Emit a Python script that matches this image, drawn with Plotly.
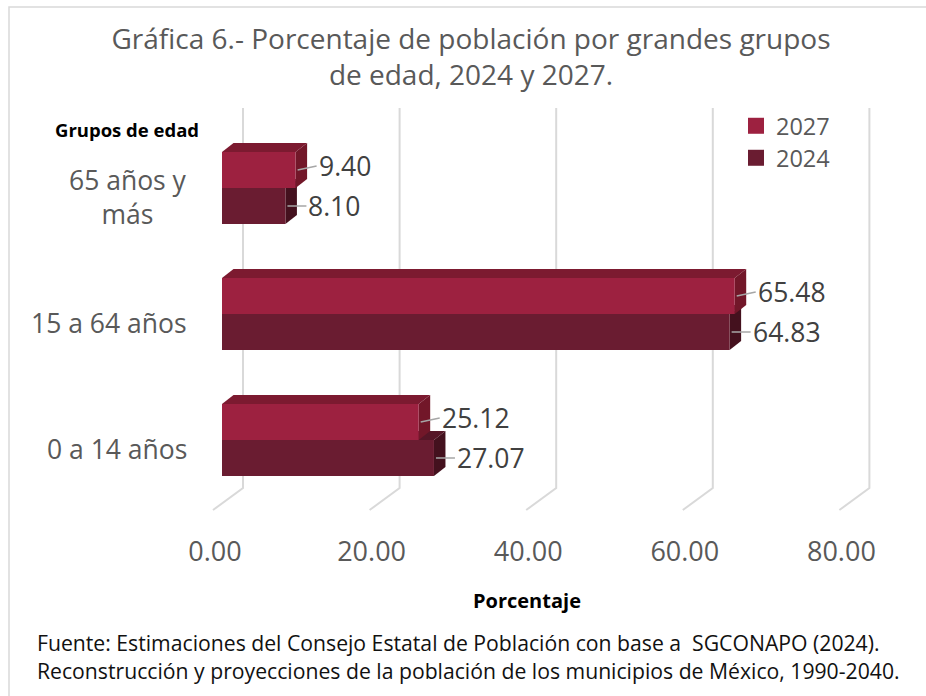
import plotly.graph_objects as go

# ---------------- data ----------------
categories = ["0 a 14 años", "15 a 64 años", "65 años y<br>más"]
series_names = ["2027", "2024"]
values_2027 = [25.12, 65.48, 9.40]
values_2024 = [27.07, 64.83, 8.10]
tick_values = [0, 20, 40, 60, 80]
tick_labels = ["0.00", "20.00", "40.00", "60.00", "80.00"]

title_text = "Gráfica 6.- Porcentaje de población por grandes grupos<br>de edad, 2024 y 2027."
source_text = ("Fuente: Estimaciones del Consejo Estatal de Población con base a  SGCONAPO (2024).<br>"
               "Reconstrucción y proyecciones de la población de los municipios de México, 1990-2040.")

# ---------------- geometry (pixel layout) ----------------
W, H = 926, 696
L, R, T, B = 100, 900, 100, 528
X0_PX = 222      # pixel of value 0 at bar front
SX = 7.83        # pixels per percentage unit
Y0_PX = 440      # pixel of first category centre
SY = 126         # pixels per category step

xmin, xmax = (L - X0_PX) / SX, (R - X0_PX) / SX
ymin, ymax = (Y0_PX - B) / SY, (Y0_PX - T) / SY


def dx(px):
    return px / SX


def dy(px):
    return px / SY


def ydata(py):
    return (Y0_PX - py) / SY


def xpaper(px):
    return (px - L) / (R - L)


def ypaper(py):
    return (B - py) / (B - T)


BAR_T = dy(36)          # bar thickness
DEP_X, DEP_Y = dx(11.5), dy(9)   # bar depth projection

FONT = "Open Sans"
GRAY = "#595959"

col = {
    "2027": dict(front="#9D2140", top="#7C1A30", side="#721729"),
    "2024": dict(front="#6A1C31", top="#561627", side="#44111E"),
}

fig = go.Figure()

# front faces of bars
series = [("2027", values_2027, +0.5), ("2024", values_2024, -0.5)]
for name, vals, off in series:
    fig.add_trace(go.Bar(
        orientation="h",
        x=vals,
        y=[i + off * BAR_T for i in range(len(categories))],
        width=BAR_T,
        base=0,
        marker=dict(color=col[name]["front"], line=dict(width=0)),
        name=name,
        showlegend=False,
        hovertemplate="%{x:.2f}<extra>" + name + "</extra>",
    ))

# legend entries (one legend box per series for exact spacing)
for k, (name, vals, off) in enumerate(series):
    fig.add_trace(go.Scatter(
        x=[None], y=[None], mode="markers", name=name,
        legend="legend" if k == 0 else "legend2",
        marker=dict(symbol="square", size=16, color=col[name]["front"]),
    ))

shapes = []

# back-wall gridlines + floor diagonals
g_top, g_bot, g_floor = ydata(108), ydata(488), ydata(510)
for v in tick_values:
    xb = v + dx(21)
    xf = v - dx(9)
    shapes.append(dict(type="path", xref="x", yref="y", layer="below",
                       path=f"M {xb},{g_top} L {xb},{g_bot} L {xf},{g_floor}",
                       line=dict(color="#D9D9D9", width=2)))

# 3D top and side faces (2024 first, then 2027)
for name, vals, off in [series[1], series[0]]:
    for i, v in enumerate(vals):
        c = i + off * BAR_T
        yt, yb = c + BAR_T / 2, c - BAR_T / 2
        top = (f"M 0,{yt} L {v},{yt} L {v + DEP_X},{yt + DEP_Y} "
               f"L {DEP_X},{yt + DEP_Y} Z")
        side = (f"M {v},{yb} L {v},{yt} L {v + DEP_X},{yt + DEP_Y} "
                f"L {v + DEP_X},{yb + DEP_Y} Z")
        shapes.append(dict(type="path", xref="x", yref="y", layer="between",
                           path=top, fillcolor=col[name]["top"], line=dict(width=0)))
        shapes.append(dict(type="path", xref="x", yref="y", layer="between",
                           path=side, fillcolor=col[name]["side"], line=dict(width=0)))

# chart border (left and top edges visible)
shapes.append(dict(type="rect", xref="paper", yref="paper", layer="below",
                   x0=xpaper(9), x1=xpaper(W + 20), y0=ypaper(H + 20), y1=ypaper(7),
                   line=dict(color="#D9D9D9", width=1.5)))

annotations = []

# value labels with leader lines
for name, vals, off in series:
    for i, v in enumerate(vals):
        c = i + off * BAR_T
        annotations.append(dict(
            x=v + dx(2), y=c, xref="x", yref="y",
            text=f"{v:.2f}", showarrow=True, arrowhead=0, arrowwidth=1.5,
            arrowcolor="#A6A6A6", ax=19, ay=-4 if name == "2027" else 0,
            xanchor="left", yanchor="middle",
            font=dict(family=FONT, size=26.5, color="#404040"),
        ))

# category labels
for i, cat in enumerate(categories):
    annotations.append(dict(
        x=dx(189 - X0_PX), y=i, xref="x", yref="y", yshift=-9,
        text=cat, showarrow=False, xanchor="right", yanchor="middle", align="center",
        font=dict(family=FONT, size=26.5, color=GRAY),
    ))

# axis header
annotations.append(dict(
    x=xpaper(53), y=ypaper(130), xref="paper", yref="paper",
    text="<b>Grupos de edad</b>", showarrow=False, xanchor="left", yanchor="middle",
    font=dict(family=FONT, size=18.5, color="#000000"),
))

# x axis title
annotations.append(dict(
    x=xpaper(527), y=ypaper(600), xref="paper", yref="paper",
    text="<b>Porcentaje</b>", showarrow=False, xanchor="center", yanchor="middle",
    font=dict(family=FONT, size=20, color="#000000"),
))

# source
annotations.append(dict(
    x=xpaper(35), y=ypaper(656), xref="paper", yref="paper",
    text=source_text, showarrow=False, xanchor="left", yanchor="middle", align="left",
    font=dict(family=FONT, size=21.2, color="#111111"),
))

legend_common = dict(xanchor="left", yanchor="middle", xref="paper", yref="paper",
                     bgcolor="rgba(0,0,0,0)", itemsizing="trace",
                     font=dict(family=FONT, size=23.5, color=GRAY))

fig.update_layout(
    width=W, height=H, autosize=False,
    margin=dict(l=L, r=W - R, t=T, b=H - B, pad=0),
    paper_bgcolor="white", plot_bgcolor="white",
    barmode="overlay",
    title=dict(text=title_text, x=471 / W, xanchor="center", xref="container",
               y=1 - 49 / H, yanchor="middle", yref="container",
               font=dict(family=FONT, size=28, color=GRAY)),
    xaxis=dict(range=[xmin, xmax], showgrid=False, zeroline=False, showline=False,
               tickmode="array", tickvals=tick_values, ticktext=tick_labels,
               ticks="", ticklabelshift=-7, ticklabelstandoff=5,
               tickfont=dict(family=FONT, size=27, color=GRAY)),
    yaxis=dict(range=[ymin, ymax], showgrid=False, zeroline=False, showline=False,
               showticklabels=False, ticks=""),
    legend=dict(x=xpaper(736), y=ypaper(126), **legend_common),
    legend2=dict(x=xpaper(736), y=ypaper(158), **legend_common),
    shapes=shapes,
    annotations=annotations,
)

fig.write_html("out.html", config={"displayModeBar": False},
               post_script="document.body.style.margin='0px';")
